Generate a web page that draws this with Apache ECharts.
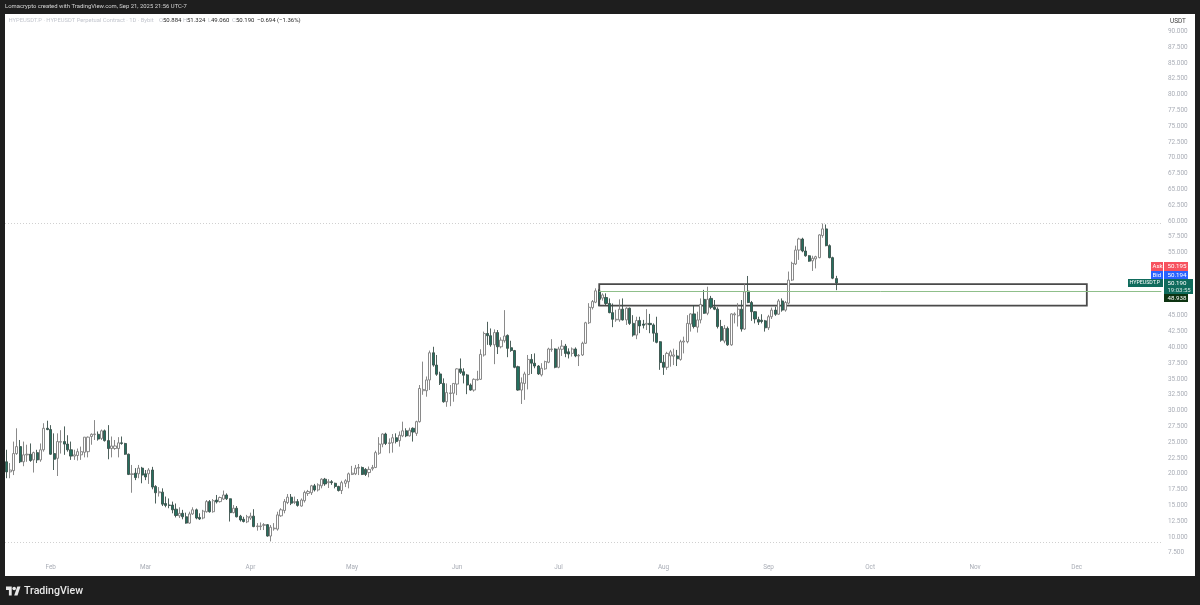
<!DOCTYPE html>
<html>
<head>
<meta charset="utf-8">
<title>HYPEUSDT.P</title>
<script src="https://cdn.jsdelivr.net/npm/echarts@6/dist/echarts.min.js"></script>
<style>
  html, body { margin: 0; padding: 0; background: #1e1e1e; }
  #main { width: 1200px; height: 605px; }
</style>
</head>
<body>
<div id="main"></div>
<script>
// daily candles, 2025-01-19 to 2025-09-21
var opens = [
  21.9,20.3,20.5,23.2,24.3,21.9,23.0,23.1,22.2,23.35,
  22.2,23.8,27.2,27.0,23.2,22.45,25.0,25.1,24.7,23.8,
  22.8,22.9,23.0,23.4,23.5,25.9,26.2,26.25,25.6,26.8,
  25.25,24.0,24.0,24.0,24.9,24.8,23.1,19.9,20.1,20.0,
  20.9,20.0,20.0,20.6,18.0,17.0,17.1,15.3,15.05,15.05,
  14.4,13.35,13.75,13.2,12.2,13.65,14.3,13.1,13.0,14.0,
  15.6,14.0,15.85,15.6,16.0,16.65,16.05,13.85,14.55,13.3,
  12.8,12.4,13.0,13.3,11.65,11.65,11.85,11.95,10.15,11.3,
  11.25,13.35,14.2,15.45,16.3,15.45,15.6,14.9,15.75,16.9,
  17.0,18.1,17.45,18.1,19.15,18.6,18.75,18.5,18.0,17.35,
  18.5,18.75,19.9,20.0,20.9,21.0,20.7,20.2,20.8,21.0,
  23.25,24.7,26.3,24.8,24.9,25.7,25.25,26.0,26.8,26.0,
  27.2,26.4,28.25,33.15,33.15,34.85,39.15,37.2,35.8,34.3,
  31.4,32.7,32.75,34.2,36.6,36.15,35.65,34.05,33.25,34.85,
  34.95,38.8,42.2,41.85,40.4,42.35,40.1,41.05,41.9,39.95,
  39.5,36.95,33.25,34.3,35.7,38.1,37.5,37.05,35.65,36.6,
  37.65,39.65,39.75,36.85,39.7,40.2,39.3,39.05,39.75,38.65,
  38.8,40.65,43.9,46.3,47.15,
  48.9,47.8,47.9,46.95,45.5,44.35,44.35,46.05,44.35,46.2,
  43.8,41.95,44.25,43.7,43.65,43.8,43.55,42.25,40.9,37.65,
  36.85,38.65,38.6,38.65,38.1,40.85,40.9,43.7,45.3,43.2,
  44.35,47.6,45.4,47.75,46.35,46.05,
  43.3,41.0,43.0,40.4,45.15,45.0,46.05,42.9,48.9,47.1,
  45.65,44.4,44.3,44.2,43.1,44.85,45.9,45.25,47.35,45.9,
  47.0,50.65,53.2,55.4,57.15,55.25,54.5,53.7,54.0,54.2,
  57.7,58.75,56.1,54.2,50.884
];
var closes = [
  20.3,20.6,23.2,24.3,21.9,23.0,23.1,22.1,23.35,22.2,
  23.8,27.2,27.0,23.1,22.3,25.1,25.1,24.7,23.8,22.8,
  23.0,23.5,23.5,25.8,25.8,26.25,26.3,25.5,26.8,25.25,
  24.0,24.4,24.4,24.9,24.8,23.1,19.9,20.0,19.4,20.9,
  19.8,19.5,20.6,17.9,17.0,17.15,15.2,15.0,15.0,14.3,
  13.4,13.75,13.2,12.2,13.65,14.3,13.0,12.85,14.1,15.6,
  14.0,15.75,15.55,16.25,16.65,16.05,13.85,14.55,13.2,12.7,
  12.45,13.2,13.3,11.65,11.75,11.75,11.95,10.15,11.55,11.4,
  13.5,14.3,15.6,16.3,15.35,15.6,15.0,15.85,17.05,17.2,
  18.1,17.45,18.25,19.15,18.4,18.75,18.6,18.0,17.35,18.6,
  18.9,20.0,20.1,20.9,21.0,19.9,19.9,20.7,21.0,23.35,
  24.7,26.3,24.8,24.9,25.7,25.1,26.1,26.8,26.0,26.9,
  26.6,28.25,33.5,33.35,34.85,39.15,37.2,35.75,34.3,31.4,
  32.85,32.8,34.3,36.6,36.05,35.6,34.05,33.25,34.95,34.95,
  38.9,42.2,41.85,40.4,42.35,40.1,41.15,41.8,39.85,39.5,
  36.85,33.25,34.4,35.8,38.1,37.5,37.05,35.8,36.7,37.75,
  39.75,39.75,36.85,39.75,40.2,39.05,38.95,39.75,38.65,38.75,
  40.65,43.9,46.35,47.25,48.95,
  47.6,48.3,46.95,45.5,44.45,44.45,46.05,44.35,46.2,43.8,
  41.95,44.25,43.4,43.5,43.8,43.6,42.25,40.8,37.6,36.85,
  39.05,39.3,38.8,38.2,40.9,41.0,43.8,45.3,43.3,44.35,
  46.8,45.4,47.6,46.35,46.05,43.3,
  41.15,43.0,40.4,45.3,45.3,46.05,42.9,48.8,47.1,45.65,
  44.5,44.0,44.1,43.1,44.85,45.9,45.25,47.35,45.9,47.1,
  50.65,53.3,55.4,57.15,55.25,54.5,53.65,54.1,54.35,57.8,
  58.75,56.1,54.2,50.95,50.19
];
var lows = [
  19.3,19.3,19.8,23.0,21.7,21.2,21.9,21.9,20.2,21.7,
  21.9,23.5,26.9,23.0,20.6,19.65,23.2,23.0,23.5,22.2,
  22.2,22.1,22.2,22.6,22.6,24.6,25.35,25.25,25.35,25.1,
  22.3,22.6,23.8,22.6,24.6,23.0,19.8,17.0,19.0,19.3,
  18.5,19.0,18.4,17.55,15.3,16.4,14.9,14.7,14.55,13.75,
  13.1,13.0,12.8,12.1,12.1,13.5,12.8,12.7,12.8,13.85,
  13.85,13.85,15.3,15.45,15.85,15.85,12.45,13.75,13.1,12.45,
  12.3,12.2,12.7,11.55,11.0,11.1,11.1,10.05,9.3,11.0,
  11.0,13.2,13.75,15.2,15.05,15.2,14.8,14.8,15.45,16.5,
  16.65,17.2,17.2,17.7,18.1,17.75,18.25,17.7,17.2,16.8,
  17.9,17.7,19.8,19.8,19.8,19.8,19.65,19.45,20.5,20.9,
  23.0,24.2,24.55,23.25,23.35,24.8,24.3,25.8,25.8,25.9,
  25.1,26.0,28.1,32.5,32.2,33.25,36.95,35.5,34.05,31.25,
  30.6,30.7,31.4,32.45,35.8,34.3,32.6,33.15,33.0,34.75,
  34.85,38.55,40.4,40.1,37.35,38.95,39.85,40.75,38.45,39.3,
  36.7,33.15,31.05,31.7,33.35,35.8,36.7,35.65,35.4,36.45,
  37.5,39.3,36.7,36.7,38.65,38.45,38.25,38.55,38.45,37.05,
  38.65,40.55,43.7,46.0,47.0,
  46.55,47.4,46.7,45.4,43.2,44.05,44.05,44.25,43.55,43.55,
  41.7,41.3,42.25,43.0,42.75,42.25,40.9,40.65,36.45,35.65,
  36.45,36.95,37.2,37.05,37.9,39.05,40.65,42.5,43.0,42.35,
  43.8,45.3,45.1,46.05,45.9,43.0,
  40.9,40.65,40.25,40.25,43.8,43.3,42.5,42.75,47.0,44.2,
  43.8,43.55,43.8,42.5,42.75,44.5,45.0,45.15,45.65,45.65,
  46.8,50.5,53.05,53.85,55.05,54.35,53.55,52.1,52.5,54.1,
  57.35,56.0,54.1,50.8,49.06
];
var highs = [
  23.8,21.7,25.1,27.2,25.35,25.1,24.6,24.8,23.5,23.8,
  24.8,28.0,28.4,27.7,26.4,26.4,26.9,27.5,26.1,25.1,
  23.8,24.0,24.3,25.8,25.9,26.4,28.5,26.7,27.0,27.0,
  27.7,25.9,25.35,25.8,25.9,24.9,23.2,21.4,20.9,21.4,
  21.1,20.6,20.9,21.1,18.2,17.9,17.7,16.4,16.1,15.6,
  15.3,14.7,14.3,13.85,14.0,14.7,14.5,13.75,14.3,15.85,
  15.85,16.0,16.65,16.4,17.35,16.9,16.1,15.05,14.9,13.5,
  13.2,13.5,13.85,14.4,12.2,12.3,12.2,12.05,11.9,12.2,
  14.0,14.55,16.0,16.8,16.8,16.4,16.0,16.1,17.35,17.45,
  18.25,18.4,18.5,19.3,19.35,19.15,19.0,18.6,18.1,18.9,
  19.15,20.2,21.25,21.4,21.55,21.15,20.9,21.15,21.4,23.65,
  25.8,26.4,26.5,25.6,26.3,26.4,26.7,28.25,27.2,27.3,
  27.35,28.4,34.05,37.75,35.4,39.5,40.1,38.8,36.15,35.1,
  34.3,34.05,34.3,36.7,38.25,36.7,35.8,34.3,35.1,36.3,
  39.7,42.5,44.05,43.0,42.85,42.75,41.6,45.9,42.05,41.05,
  39.6,37.1,35.25,36.15,38.8,38.95,39.05,37.2,37.5,37.9,
  39.95,41.3,39.85,40.1,41.15,40.55,39.85,40.0,40.0,38.95,
  40.9,44.05,47.0,47.5,49.35,
  49.2,48.55,48.55,47.75,46.95,45.95,47.6,47.75,46.35,46.3,
  45.1,44.85,44.85,44.35,46.05,45.3,43.8,44.85,41.0,38.8,
  39.3,39.6,39.8,39.6,41.2,41.7,45.1,45.4,46.7,45.65,
  47.75,49.1,49.6,48.15,47.5,46.35,
  44.35,43.55,43.3,45.4,45.55,47.0,47.5,50.15,51.3,47.35,
  45.75,44.85,45.25,44.35,45.15,46.3,46.45,47.65,47.75,47.35,
  52.0,53.55,56.1,57.35,57.35,55.95,54.6,54.5,54.5,57.9,
  59.6,59.45,56.3,54.35,51.324
];
var monthNames = ['Jan','Feb','Mar','Apr','May','Jun','Jul','Aug','Sep','Oct','Nov','Dec'];
var levels = [59.6, 9.2];          // dotted high / low lines
var boxPrices = [50.0, 46.6];      // drawn zone
var boxDates = ['2025-07-13', '2025-12-04'];
var entryPrice = 48.938;

// the axis runs on past the last candle
var dates = [];
for (var i = 0; i < 342; i++) {
  dates.push(new Date(Date.UTC(2025, 0, 19 + i)).toISOString().slice(0, 10));
}
var candles = opens.map(function (o, k) {
  return [o, closes[k], lows[k], highs[k]];
});

var font = 'Roboto';
var upBorder = '#7d7d7d', downFill = '#24705f', downBorder = '#3a4f4a';

function txt(x, y, s, color, size, extra) {
  var style = { text: s, x: x, y: y, fill: color, fontSize: size, fontFamily: font, verticalAlign: 'middle' };
  for (var k in extra || {}) style[k] = extra[k];
  return { type: 'text', z: 100, silent: true, style: style };
}
function box(x, y, w, h, color) {
  return { type: 'rect', z: 99, silent: true, shape: { x: x, y: y, width: w, height: h }, style: { fill: color } };
}
function logoPart(points) {
  return { type: 'polygon', z: 100, silent: true, shape: { points: points }, style: { fill: '#e8e8e8' } };
}

var gfx = [
  { type: 'rect', z: -1, silent: true, shape: { x: 5, y: 14, width: 1190, height: 562 }, style: { fill: '#ffffff' } },
  txt(5, 7, 'Lomacrypto created with TradingView.com, Sep 21, 2025 21:56 UTC-7', '#d6d6d6', 5.9),
  txt(8.5, 20.5, 'HYPEUSDT.P · HYPEUSDT Perpetual Contract · 1D · Bybit', '#c3c6ce', 5.8),
  txt(159, 20.5, 'O', '#c3c6ce', 6), txt(163, 20.5, '50.884', '#2a2a2a', 6),
  txt(183, 20.5, 'H', '#c3c6ce', 6), txt(187, 20.5, '51.324', '#2a2a2a', 6),
  txt(208, 20.5, 'L', '#c3c6ce', 6), txt(211, 20.5, '49.060', '#2a2a2a', 6),
  txt(232, 20.5, 'C', '#c3c6ce', 6), txt(236, 20.5, '50.190', '#2a2a2a', 6),
  txt(257, 20.5, '−0.694 (−1.36%)', '#2a2a2a', 6),
  txt(1170, 21, 'USDT', '#3a3a3a', 6.4),
  // price tags on the axis
  box(1151, 262, 12, 9, '#f7525f'), txt(1152.5, 266.7, 'Ask', '#ffffff', 6),
  box(1164, 262, 24, 9, '#f7525f'), txt(1167.5, 266.7, '50.195', '#ffffff', 6.2),
  box(1151, 271, 12, 8, '#2962ff'), txt(1152.5, 275, 'Bid', '#ffffff', 6),
  box(1164, 271, 24, 8, '#2962ff'), txt(1167.5, 275, '50.194', '#ffffff', 6.2),
  box(1128, 279, 35, 8, '#0f6b5c'), txt(1129.5, 283, 'HYPEUSDT.P', '#ffffff', 5.3),
  box(1164, 279, 29, 15, '#0f6b5c'), txt(1167.5, 283, '50.190', '#ffffff', 6.2), txt(1167.5, 290, '19:03:55', '#d8e8e4', 6),
  box(1164, 294, 24, 8, '#0d3311'), txt(1167.5, 298, '48.938', '#ffffff', 6.2),
  // footer logo
  logoPart([[6, 586.5], [11.7, 586.5], [11.7, 595.5], [8.9, 595.5], [8.9, 590], [6, 590]]),
  logoPart([[14.2, 595.5], [17.3, 586.5], [20.5, 586.5], [17.5, 595.5]]),
  { type: 'circle', z: 100, silent: true, shape: { cx: 14.2, cy: 588.5, r: 1.8 }, style: { fill: '#e8e8e8' } },
  txt(24, 591, 'TradingView', '#e8e8e8', 10.6, { fontWeight: 500 })
];

var myChart = echarts.init(document.getElementById('main'));
myChart.setOption({
  animation: false,
  backgroundColor: '#1e1e1e',
  graphic: gfx,
  grid: { left: 5, right: 37, top: 15.6, bottom: 52.2 },
  xAxis: {
    type: 'category',
    data: dates,
    boundaryGap: true,
    axisLine: { show: false },
    axisTick: { show: false },
    splitLine: { show: false },
    axisLabel: {
      margin: 12,
      color: '#a9adb6',
      fontSize: 6.4,
      fontFamily: font,
      hideOverlap: false,
      interval: function (idx, val) { return val.slice(8) === '01'; },
      formatter: function (val) { return monthNames[+val.slice(5, 7) - 1]; }
    }
  },
  yAxis: {
    type: 'value',
    position: 'right',
    min: 7.5,
    max: 92.5,
    interval: 2.5,
    axisLine: { show: false },
    axisTick: { show: false },
    splitLine: { show: false },
    axisLabel: {
      margin: 5,
      color: '#a9adb6',
      fontSize: 6.4,
      fontFamily: font,
      formatter: function (v) { return v > 90 ? '' : v.toFixed(3); }
    }
  },
  series: [{
    type: 'candlestick',
    data: candles,
    barWidth: 2.6,
    clip: true,
    itemStyle: {
      color: '#ffffff',
      color0: downFill,
      borderColor: upBorder,
      borderColor0: downBorder,
      borderWidth: 0.9
    },
    markLine: {
      silent: true,
      symbol: 'none',
      label: { show: false },
      data: [
        { yAxis: levels[0], lineStyle: { color: '#c4c4c4', type: [1, 2], width: 0.8 } },
        { yAxis: levels[1], lineStyle: { color: '#c4c4c4', type: [1, 2], width: 0.8 } },
        [
          { coord: [boxDates[0], entryPrice], lineStyle: { color: '#8fbf8a', type: 'solid', width: 1 } },
          { coord: [dates[dates.length - 1], entryPrice] }
        ]
      ]
    },
    markArea: {
      silent: true,
      label: { show: false },
      itemStyle: { color: 'rgba(0,0,0,0)', borderColor: '#4a4a4a', borderWidth: 1.8 },
      data: [[
        { xAxis: boxDates[0], yAxis: boxPrices[0] },
        { xAxis: boxDates[1], yAxis: boxPrices[1] }
      ]]
    }
  }]
});
</script>
</body>
</html>
